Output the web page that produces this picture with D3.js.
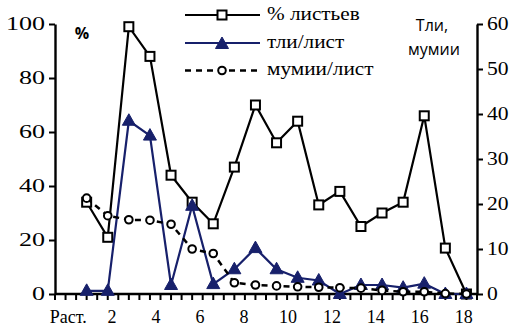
<!DOCTYPE html>
<html><head><meta charset="utf-8">
<script src="https://cdn.jsdelivr.net/npm/d3@7"></script>
<style>
html,body{margin:0;padding:0;background:#fff;}
svg{display:block;}
</style></head>
<body>
<svg id="chart" width="510" height="333"></svg>
<script>
// ---- data ----
const categories = ["Раст.","1","2","3","4","5","6","7","8","9","10","11","12","13","14","15","16","17","18"];
const pctLeaves = [34, 21, 99, 88, 44, 34, 26, 47, 70, 56, 64, 33, 38, 25, 30, 34, 66, 17, 0];
const aphidsPerLeaf = [0.7, 0.7, 38.5, 35.2, 2, 19.6, 2.2, 5.5, 10.2, 5.5, 3.6, 3.0, 0, 2.0, 2.0, 1.4, 2.3, 0, 0];
const mummiesPerLeaf = [21.3, 17.4, 16.5, 16.4, 15.5, 10.0, 9.0, 2.5, 2.0, 1.8, 1.6, 1.5, 1.4, 1.3, 0.8, 0.5, 0.5, 0.1, 0];
const xTickLabels = ["Раст.","2","4","6","8","10","12","14","16","18"];
const xTickValues = [0,2,4,6,8,10,12,14,16,18];
const leftTicks = [0,20,40,60,80,100];
const rightTicks = [0,10,20,30,40,50,60];
const seriesNames = ["% листьев","тли/лист","мумии/лист"];

const SERIF = "Liberation Serif";
const SANS = "Open Sans";
const NAVY = "#17206b";
const svg = d3.select("#chart");

// slots: 20 category slots, data occupies slots 1..19
const x = d3.scaleLinear().domain([0,20]).range([55,477]);
const px = i => x(i + 1.5);
const yL = d3.scaleLinear().domain([0,100]).range([294,24]);
const yR = d3.scaleLinear().domain([0,60]).range([294,24]);
const labelScale = d3.scaleLinear().domain([0,18]).range([x(0.6), x(19.35)]);

// axes
const gx = svg.append("g").attr("transform","translate(0,294)");
gx.append("line").attr("x1",55).attr("x2",477).attr("stroke","#000").attr("stroke-width",2.4);
gx.selectAll(".mt").data(d3.range(0,20.01,0.5)).enter().append("line")
  .attr("x1",d=>x(d)).attr("x2",d=>x(d)).attr("y1",0).attr("y2",6)
  .attr("stroke","#000").attr("stroke-width",2);
const gxl = svg.append("g").attr("transform","translate(0,294)")
  .call(d3.axisBottom(labelScale).tickValues(xTickValues).tickSize(0).tickPadding(0)
    .tickFormat((d,i)=>xTickLabels[i]));
gxl.select(".domain").remove();
gxl.attr("font-family",SERIF).attr("font-size",18);
gxl.selectAll("text").attr("fill","#000").attr("dy",0).attr("y",29);

const gl = svg.append("g").attr("transform","translate(55,0)")
  .call(d3.axisLeft(yL).tickValues(leftTicks).tickSize(6).tickSizeOuter(0).tickPadding(0));
gl.select(".domain").attr("stroke-width",2.4);
gl.selectAll(".tick line").attr("stroke-width",2);
gl.attr("font-family",SERIF).attr("font-size",18);
gl.selectAll("text").attr("fill","#000")
  .attr("x",-10/1.45).attr("transform","scale(1.45,1)");

const gr = svg.append("g").attr("transform","translate(477,0)")
  .call(d3.axisRight(yR).tickValues(rightTicks).tickSize(6).tickSizeOuter(0).tickPadding(0));
gr.select(".domain").attr("stroke-width",2.4);
gr.selectAll(".tick line").attr("stroke-width",2);
gr.attr("font-family",SERIF).attr("font-size",18);
gr.selectAll("text").attr("fill","#000")
  .attr("x",10/1.2).attr("transform","scale(1.2,1)");

// markers
function square(g, cx, cy){ g.append("rect").attr("x",cx-4.5).attr("y",cy-4.5).attr("width",9).attr("height",9)
  .attr("fill","#fff").attr("stroke","#000").attr("stroke-width",2); }
function tri(g, cx, cy){ g.append("path").attr("d",`M${cx},${cy-7}L${cx+6.5},${cy+4.5}L${cx-6.5},${cy+4.5}Z`)
  .attr("fill",NAVY).attr("stroke",NAVY).attr("stroke-width",1); }
function circ(g, cx, cy){ g.append("circle").attr("cx",cx).attr("cy",cy).attr("r",3.8)
  .attr("fill","#fff").attr("stroke","#000").attr("stroke-width",2); }

// series 1
const l1 = d3.line().x((d,i)=>px(i)).y(d=>yL(d));
svg.append("path").attr("d",l1(pctLeaves)).attr("fill","none").attr("stroke","#000").attr("stroke-width",2.2);
const m1 = svg.append("g");
pctLeaves.forEach((d,i)=>square(m1, px(i), yL(d)));

// series 2
const l2 = d3.line().x((d,i)=>px(i)).y(d=>yR(d));
svg.append("path").attr("d",l2(aphidsPerLeaf)).attr("fill","none").attr("stroke",NAVY).attr("stroke-width",2.2);
const m2 = svg.append("g");
aphidsPerLeaf.forEach((d,i)=>tri(m2, px(i), yR(d)));

// series 3
svg.append("path").attr("d",l2(mummiesPerLeaf)).attr("fill","none").attr("stroke","#000").attr("stroke-width",2.5)
  .attr("stroke-dasharray","6,5");
const m3 = svg.append("g");
mummiesPerLeaf.forEach((d,i)=>circ(m3, px(i), yR(d)));

// legend
const lg = svg.append("g");
const rows = [15, 43, 70.5];
lg.append("line").attr("x1",185).attr("x2",260).attr("y1",rows[0]).attr("y2",rows[0]).attr("stroke","#000").attr("stroke-width",2.2);
square(lg, 222, rows[0]);
lg.append("line").attr("x1",185).attr("x2",260).attr("y1",rows[1]).attr("y2",rows[1]).attr("stroke",NAVY).attr("stroke-width",2.2);
tri(lg, 222, rows[1]+1);
lg.append("line").attr("x1",185).attr("x2",260).attr("y1",rows[2]).attr("y2",rows[2]).attr("stroke","#000").attr("stroke-width",2.5).attr("stroke-dasharray","6,5");
circ(lg, 222, rows[2]);
seriesNames.forEach((t,i)=>{
  lg.append("text").attr("font-family",SERIF).attr("font-size",18).attr("fill","#000")
    .attr("x",267/1.18).attr("y",rows[i]+5).attr("transform","scale(1.18,1)").text(t);
});

// axis titles
svg.append("text").attr("x",82).attr("y",39).attr("text-anchor","middle")
  .attr("font-family",SANS).attr("font-weight","bold").attr("font-size",16).text("%");
svg.append("text").attr("x",432).attr("y",31).attr("text-anchor","middle")
  .attr("font-family",SANS).attr("font-size",16).text("Тли,");
svg.append("text").attr("x",434).attr("y",55).attr("text-anchor","middle")
  .attr("font-family",SANS).attr("font-size",16).text("мумии");
</script>
</body></html>
